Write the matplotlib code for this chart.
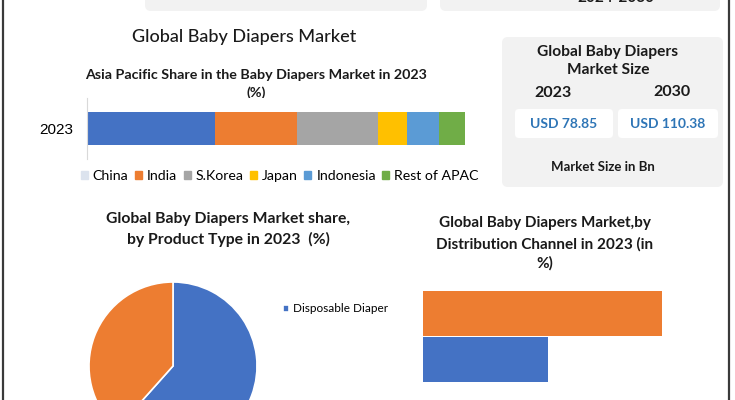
import matplotlib.pyplot as plt
from matplotlib.patches import FancyBboxPatch, Patch

# data
regions = ['China', 'India', 'S.Korea', 'Japan', 'Indonesia', 'Rest of APAC']
region_share = [33.9, 22.0, 21.4, 7.7, 8.5, 6.9]
region_colors = ['#4472C4', '#ED7D31', '#A5A5A5', '#FFC000', '#5B9BD5', '#70AD47']
bar_year = '2023'

product_types = ['Disposable Diaper', 'Cloth Diaper']
product_share = [61.6, 38.4]
product_colors = ['#4472C4', '#ED7D31']

channels = ['Online', 'Offline']
channel_share = [34.3, 65.7]
channel_colors = ['#4472C4', '#ED7D31']

size_years = ['2023', '2030']
size_values = [78.85, 110.38]

W, H = 735, 400
font = ['Lato', 'DejaVu Sans']
fig = plt.figure(figsize=(W / 100, H / 100), dpi=100)

# overlay in pixel coordinates for boxes and texts
bg = fig.add_axes([0, 0, 1, 1])
bg.set_xlim(0, W)
bg.set_ylim(H, 0)
bg.axis('off')


def box(x0, y0, x1, y1, color, r=6):
    bg.add_patch(FancyBboxPatch((x0, y0), x1 - x0, y1 - y0,
                                boxstyle='round,pad=0,rounding_size=%d' % r,
                                fc=color, ec='none'))


def txt(x, y, s, size, weight='normal', color='#1a1a1a', family=font):
    bg.text(x, y, s, ha='center', va='center', fontsize=size, fontweight=weight,
            color=color, family=family)


# boxes cut off at the top, as in the reference
box(145, -20, 427, 11, '#F2F2F2')
box(440, -20, 720, 11, '#F2F2F2')
txt(616, -2, '2024-2030', 11, 'bold')

# frame lines
bg.plot([3, 3], [0, H], color='#3a3a3a', lw=1.6)
bg.plot([729, 729], [0, H], color='#3a3a3a', lw=1.6)

txt(244, 37, 'Global Baby Diapers Market', 13, 'medium')
txt(256, 75, 'Asia Pacific Share in the Baby Diapers Market in 2023', 10.3, 'bold')
txt(256, 93, '(%)', 10.3, 'bold')

# market size box
box(502, 37, 723, 187, '#F2F2F2')
txt(608, 52, 'Global Baby Diapers', 11.2, 'bold')
txt(608, 70, 'Market Size', 11.2, 'bold')
txt(553, 93, size_years[0], 11.5, 'bold')
txt(672, 92, size_years[1], 11.5, 'bold')
box(515, 109, 613, 138, 'white', 4)
box(618, 109, 718, 138, 'white', 4)
txt(564, 124, 'USD %.2f' % size_values[0], 10, 'bold', '#2E75B6')
txt(668, 124, 'USD %.2f' % size_values[1], 10, 'bold', '#2E75B6')
txt(603, 167, 'Market Size in Bn', 9.5, 'bold')

txt(228, 219, 'Global Baby Diapers Market share,', 11.3, 'bold')
txt(228, 239, 'by Product Type in 2023  (%)', 11.3, 'bold')

txt(545, 223, 'Global Baby Diapers Market,by', 11, 'bold')
txt(545, 244, 'Distribution Channel in 2023 (in', 11, 'bold')
txt(545, 263, '%)', 11, 'bold')


def frac(x0, y0, x1, y1):
    return [x0 / W, 1 - y1 / H, (x1 - x0) / W, (y1 - y0) / H]


# stacked bar
ax1 = fig.add_axes(frac(87, 98, 465, 159))
left = 0
for name, v, c in zip(regions, region_share, region_colors):
    ax1.barh([bar_year], [v], left=left, height=0.54, color=c, label=name)
    left += v
ax1.set_xlim(0, sum(region_share))
ax1.set_ylim(-0.5, 0.5)
for s in ['top', 'right', 'bottom']:
    ax1.spines[s].set_visible(False)
ax1.spines['left'].set_color('#D9D9D9')
ax1.set_xticks([])
ax1.tick_params(axis='y', length=0, pad=10, labelsize=11)
for lab in ax1.get_yticklabels():
    lab.set_family('Liberation Sans')
handles = [Patch(color=c) for c in region_colors]
handles[0] = Patch(color='#DCE3EE')
ax1.legend(handles, regions, ncol=6, loc='center', bbox_to_anchor=(0.51, -0.28),
           frameon=False, handlelength=0.5, handleheight=0.5, columnspacing=0.45,
           handletextpad=0.35, prop={'family': font, 'size': 10.2})

# pie, clipped by the bottom edge
ax2 = fig.add_axes(frac(89, 282, 257, 450))
wedges, _ = ax2.pie(product_share, colors=product_colors, startangle=90,
                    counterclock=False, radius=1,
                    wedgeprops={'edgecolor': 'white', 'linewidth': 1.2})
ax2.set_xlim(-1, 1)
ax2.set_ylim(-1, 1)
ax2.legend([wedges[0]], [product_types[0]], loc='center left',
           bbox_to_anchor=(272 / W, 1 - 309 / H), bbox_transform=fig.transFigure,
           frameon=False, handlelength=0.5, handleheight=0.5, handletextpad=0.4,
           prop={'family': font, 'size': 8.5})

# distribution channel bars
ax3 = fig.add_axes(frac(423, 288, 423 + 70 * 239 / 65.7, 385))
ax3.barh(channels, channel_share, height=0.97, color=channel_colors)
ax3.set_xlim(0, 70)
ax3.set_ylim(-0.55, 1.55)
ax3.axis('off')

fig.savefig('out.png', dpi=100)
